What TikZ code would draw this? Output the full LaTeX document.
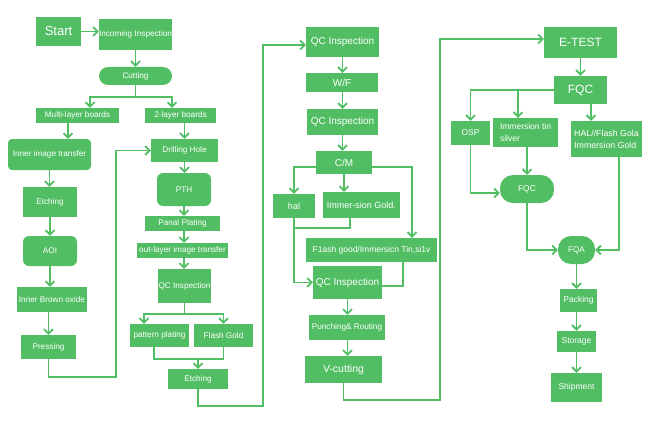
\documentclass[tikz,border=0pt]{standalone}
\usepackage{fontspec}
\setmainfont{Liberation Sans}
\usetikzlibrary{arrows.meta}
\definecolor{pcbgreen}{RGB}{82,190,100}
\newcommand{\txtsize}[1]{\fontsize{#1}{#1}\selectfont}

\begin{document}
\begin{tikzpicture}[x=1pt,y=-1pt,>={Straight Barb[length=4.5pt,width=9pt]},
  main node/.style={fill=pcbgreen,text=white,inner sep=0pt,font=\txtsize{8.2}},
  round node/.style={main node,rounded corners=6pt},
  pill node/.style={main node,rounded corners=9pt},
  flow/.style={draw=pcbgreen,line width=1.8pt}]
  \useasboundingbox (0,0) rectangle (650,425);
  % left part
  \node[main node,minimum width=45,minimum height=29,font=\txtsize{13}] (start) at (58.5,31.5) {Start};
  \node[main node,minimum width=73,minimum height=31] (inc)   at (135.5,34.5) {Incoming Inspection};
  \node[pill node,minimum width=73,minimum height=18] (cut)   at (135.5,76)   {Cutting};
  \node[main node,minimum width=83,minimum height=15] (multi) at (77.5,115.5) {Multi-layer boards};
  \node[main node,minimum width=71,minimum height=15] (two)   at (180.5,115.5) {2-layer boards};
  \node[main node,rounded corners=4pt,minimum width=83,minimum height=31] (inner) at (49.5,154.5) {Inner image transfer};
  \node[main node,minimum width=54,minimum height=30] (etch1) at (50,202)    {Etching};
  \node[round node,minimum width=54,minimum height=30] (aoi)  at (50,251)    {AOI};
  \node[main node,minimum width=70,minimum height=25] (brown) at (52,299.5)  {Inner Brown oxide};
  \node[main node,minimum width=55,minimum height=24] (press) at (48.5,347)  {Pressing};
  \node[main node,minimum width=67,minimum height=23] (drill) at (184.5,150.5) {Drilling Hole};
  \node[round node,minimum width=54,minimum height=33] (pth)  at (184,189.5) {PTH};
  \node[main node,minimum width=75,minimum height=15] (panal) at (182.5,223.5) {Panal Plating};
  \node[main node,minimum width=91,minimum height=15] (outl)  at (182.5,250.5) {out-layer image transfer};
  \node[main node,minimum width=53,minimum height=34] (qc1)   at (184.5,286) {QC Inspection};
  \node[main node,minimum width=59,minimum height=23] (patt)  at (159.5,335.5) {pattern plating};
  \node[main node,minimum width=59,minimum height=23] (flash) at (223.5,335.5) {Flash Gold};
  \node[main node,minimum width=60,minimum height=20] (etch2) at (198,379)   {Etching};
  % middle part
  \node[main node,minimum width=73,minimum height=30,font=\txtsize{10}] (qc2) at (342.5,42) {QC Inspection};
  \node[main node,minimum width=72,minimum height=19,font=\txtsize{10}] (wf)  at (342,82.5) {W/F};
  \node[main node,minimum width=71,minimum height=26,font=\txtsize{10}] (qc3) at (342.5,122) {QC Inspection};
  \node[main node,minimum width=56,minimum height=23,font=\txtsize{10}] (cm)  at (344,162.5) {C/M};
  \node[main node,minimum width=42,minimum height=24,font=\txtsize{9}] (hal)  at (294,206) {hal};
  \node[main node,minimum width=77,minimum height=26,font=\txtsize{9}] (immg) at (361.5,205) {Immer-sion Gold.};
  \node[main node,minimum width=131,minimum height=24,font=\txtsize{8.5}] (fl) at (371.5,250) {F1ash good/Immersicn Tin,si1v};
  \node[main node,minimum width=69,minimum height=33,font=\txtsize{10}] (qc4) at (347.5,282.5) {QC Inspection};
  \node[main node,minimum width=76,minimum height=25,font=\txtsize{8.2}] (punch) at (347,327.5) {Punching\& Routing};
  \node[main node,minimum width=77,minimum height=27,font=\txtsize{10.5}] (vcut) at (343.5,369.5) {V-cutting};
  % right part
  \node[main node,minimum width=73,minimum height=31,font=\txtsize{12}] (etest) at (580.5,42.5) {E-TEST};
  \node[main node,minimum width=53,minimum height=28,font=\txtsize{12}] (fqc)   at (580.5,90) {FQC};
  \node[main node,minimum width=39,minimum height=24,font=\txtsize{8.5}] (osp)  at (470.5,133) {OSP};
  \node[main node,minimum width=65,minimum height=29,align=left,font=\fontsize{8.5}{12}\selectfont] (imt) at (525.5,132.5) {Immersion tin\\silver};
  \node[main node,minimum width=71,minimum height=36,align=left,font=\fontsize{8.8}{12}\selectfont] (halg) at (606.5,139) {HAL//Flash Gola\\Immersion Gold};
  \node[main node,rounded corners=13pt,minimum width=54,minimum height=28,font=\txtsize{8.5}] (fqc2) at (527,189) {FQC};
  \node[main node,rounded corners=13pt,minimum width=37,minimum height=28] (fqa) at (576.5,250) {FQA};
  \node[main node,minimum width=37,minimum height=23,font=\txtsize{8.5}] (pack) at (578.5,300.5) {Packing};
  \node[main node,minimum width=39,minimum height=21,font=\txtsize{8.5}] (stor) at (576.5,341.5) {Storage};
  \node[main node,minimum width=51,minimum height=29,font=\txtsize{8.5}] (ship) at (576.5,387.5) {Shipment};
  % bends
  \coordinate (cutsplit) at (135.5,97);
  \coordinate (loopL)    at (116,377);
  \coordinate (qcsplit)  at (184.5,314);
  \coordinate (pfjoin)   at (198,359);
  \coordinate (loopM)    at (263,406);
  \coordinate (imjoin)   at (294,228);
  \coordinate (loopR)    at (440,400);
  % left connectors
  \draw[flow,->] (start.east) -- (start.east -| inc.west);
  \draw[flow,->] (inc.south) -- (cut.north);
  \draw[flow] (cut.south) -- (cutsplit);
  \draw[flow,->] (cutsplit) -| ([xshift=12.5pt]multi.north);
  \draw[flow,->] (cutsplit) -| ([xshift=-8.5pt]two.north);
  \draw[flow,->] ([xshift=-9.5pt]multi.south) -- ([xshift=-9.5pt]multi.south |- inner.north);
  \draw[flow,->] (inner.south) -- (inner.south |- etch1.north);
  \draw[flow,->] (etch1.south) -- (aoi.north);
  \draw[flow,->] (aoi.south) -- (aoi.south |- brown.north);
  \draw[flow,->] (brown.south -| press.north) -- (press.north);
  \draw[flow,->] (press.south) |- (loopL) |- (drill.west);
  \draw[flow,->] (two.south -| drill.north) -- (drill.north);
  \draw[flow,->] (drill.south) -- (drill.south |- pth.north);
  \draw[flow,->] (pth.south) -- (pth.south |- panal.north);
  \draw[flow,->] (pth.south |- panal.south) -- (pth.south |- outl.north);
  \draw[flow,->] (pth.south |- outl.south) -- (pth.south |- qc1.north);
  \draw[flow] (qc1.south) -- (qcsplit);
  \draw[flow,->] (qcsplit) -| ([xshift=-15.5pt]patt.north);
  \draw[flow,->] (qcsplit) -| (flash.north);
  \draw[flow] ([xshift=-5.5pt]patt.south) |- (pfjoin) -| (flash.south);
  \draw[flow,->] (pfjoin) -- (etch2.north);
  \draw[flow,->] (etch2.south) |- (loopM) |- ([yshift=-3pt]qc2.west);
  % middle connectors
  \draw[flow,->] (qc2.south) -- (qc2.south |- wf.north);
  \draw[flow,->] (qc2.south |- wf.south) -- (qc2.south |- qc3.north);
  \draw[flow,->] (qc3.south) -- (qc3.south |- cm.north);
  \draw[flow,->] ([yshift=-4.5pt]cm.west) -| (hal.north);
  \draw[flow,->] (cm.south) -- (cm.south |- immg.north);
  \draw[flow,->] ([yshift=-4.5pt]cm.east) -| ([xshift=40.5pt]fl.north);
  \draw[flow,->] (hal.south) |- (qc4.west);
  \draw[flow] ([xshift=-11.5pt]immg.south) |- (imjoin);
  \draw[flow] ([xshift=31.5pt]fl.south) |- ([yshift=-3.5pt]qc4.east);
  \draw[flow,->] (qc4.south) -- (qc4.south |- punch.north);
  \draw[flow,->] (qc4.south |- punch.south) -- (qc4.south |- vcut.north);
  \draw[flow,->] (vcut.south) |- (loopR) |- ([yshift=3.5pt]etest.west);
  % right connectors
  \draw[flow,->] (etest.south) -- (etest.south |- fqc.north);
  \draw[flow,->] (fqc.west) -| (osp.north);
  \draw[flow,->] ([xshift=-7.5pt]imt.north |- fqc.west) -- ([xshift=-7.5pt]imt.north);
  \draw[flow,->] ([xshift=10.5pt]fqc.south) -- ([xshift=10.5pt]fqc.south |- halg.north);
  \draw[flow,->] (osp.south) |- ([yshift=-4pt]fqc2.west);
  \draw[flow,->] (imt.south -| fqc2.north) -- (fqc2.north);
  \draw[flow,->] (fqc2.south) |- (fqa.west);
  \draw[flow,->] ([xshift=12.5pt]halg.south) |- (fqa.east);
  \draw[flow,->] (fqa.south) -- (fqa.south |- pack.north);
  \draw[flow,->] (fqa.south |- pack.south) -- (fqa.south |- stor.north);
  \draw[flow,->] (fqa.south |- stor.south) -- (fqa.south |- ship.north);
\end{tikzpicture}
\end{document}
